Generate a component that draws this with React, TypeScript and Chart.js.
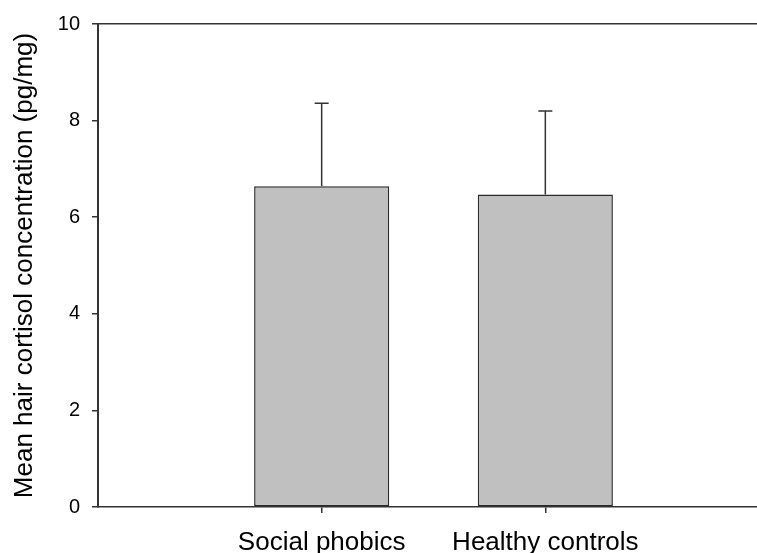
import React, { useEffect, useRef } from "react";
import { Chart, registerables } from "chart.js";

Chart.register(...registerables);

const categories = ["", "Social phobics", "Healthy controls", ""];
const means: (number | null)[] = [null, 6.64, 6.47, null];
const errors: (number | null)[] = [null, 1.72, 1.73, null];
const yTicksMin = 0;
const yTicksMax = 10;
const yTickStep = 2;
const yTitle = "Mean hair cortisol concentration (pg/mg)";

const LINE = "#333333";
const FONT = "'Liberation Sans', Arial, Helvetica, sans-serif";

const errorBarPlugin = {
  id: "errorBars",
  afterDatasetsDraw(chart: any) {
    const meta = chart.getDatasetMeta(0);
    const yScale = chart.scales.y;
    const ctx = chart.ctx;
    ctx.save();
    ctx.strokeStyle = LINE;
    ctx.lineWidth = 1.5;
    meta.data.forEach((bar: any, i: number) => {
      const m = means[i];
      const e = errors[i];
      if (m == null || e == null) return;
      const x = bar.x;
      const yBar = yScale.getPixelForValue(m);
      const yTop = yScale.getPixelForValue(m + e);
      ctx.beginPath();
      ctx.moveTo(x, yBar);
      ctx.lineTo(x, yTop);
      ctx.moveTo(x - 7, yTop);
      ctx.lineTo(x + 7, yTop);
      ctx.stroke();
    });
    ctx.restore();
  },
};

export default function App() {
  const ref = useRef<HTMLCanvasElement | null>(null);
  useEffect(() => {
    if (!ref.current) return;
    const chart = new Chart(ref.current, {
      type: "bar",
      data: {
        labels: categories,
        datasets: [
          {
            data: means as any,
            backgroundColor: "#c0c0c0",
            borderColor: "#2a2a2a",
            borderWidth: 1.5,
            borderSkipped: false,
            barPercentage: 0.604,
            categoryPercentage: 1,
          },
        ],
      },
      options: {
        animation: false,
        responsive: false,
        layout: { padding: { top: 20, right: 0, left: 0, bottom: 0 } },
        plugins: {
          legend: { display: false },
          tooltip: { enabled: false },
        },
        scales: {
          x: {
            offset: false,
            afterFit(scale: any) {
              scale.height = 46;
            },
            grid: {
              offset: false,
              drawOnChartArea: false,
              color: "transparent",
              tickColor: (c: any) => (c.index === 1 || c.index === 2 ? LINE : "transparent"),
              tickLength: 6,
              lineWidth: 1.5,
            },
            border: { color: LINE, width: 1.5 },
            ticks: {
              color: "#000",
              font: { family: FONT, size: 26 },
              padding: 14,
              maxRotation: 0,
              autoSkip: false,
            },
          },
          y: {
            min: yTicksMin,
            max: yTicksMax,
            afterFit(scale: any) {
              scale.width = 98;
            },
            grid: {
              color: (c: any) => (c.tick && c.tick.value === yTicksMax ? LINE : "transparent"),
              tickColor: LINE,
              tickLength: 6,
              lineWidth: 1.5,
            },
            border: { color: LINE, width: 2 },
            ticks: {
              stepSize: yTickStep,
              color: "#000",
              font: { family: FONT, size: 20 },
              padding: 12,
            },
            title: {
              display: true,
              text: yTitle,
              color: "#000",
              font: { family: FONT, size: 26 },
              padding: { top: 9, bottom: 0 },
            },
          },
        },
      },
      plugins: [errorBarPlugin],
    });
    return () => chart.destroy();
  }, []);
  return (
    <div
      style={{
        position: "fixed",
        left: 0,
        top: 0,
        width: 757,
        height: 553,
        overflow: "hidden",
        background: "#fff",
      }}
    >
      <canvas ref={ref} width={783} height={553} style={{ display: "block" }} />
    </div>
  );
}
